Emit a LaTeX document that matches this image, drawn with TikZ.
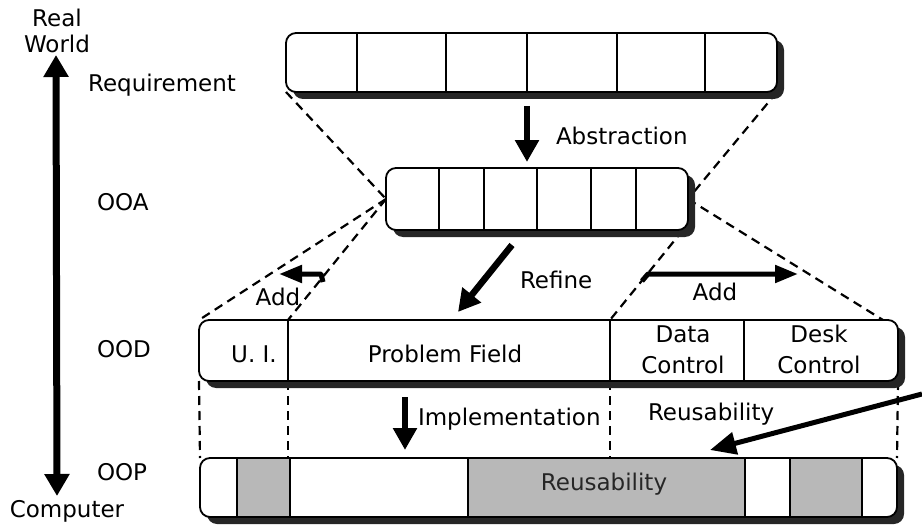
\documentclass[tikz,border=0pt]{standalone}
\usepackage{fontspec}
\setmainfont{DejaVu Sans}
\usetikzlibrary{arrows.meta,shadows}
\pgfdeclarelayer{bg}
\pgfsetlayers{bg,main}
\begin{document}
\begin{tikzpicture}[x=1pt,y=-1pt,
  font=\fontsize{23}{27}\selectfont,
  box/.style={draw=black, line width=1.8pt, fill=white, rounded corners=10pt,
    inner sep=0pt, outer sep=0pt,
    drop shadow={shadow xshift=7pt, shadow yshift=-7pt, fill=black!85, opacity=1}},
  cell/.style={line width=1.5pt},
  guide/.style={line width=2.2pt, dash pattern=on 9pt off 6pt},
  bigarrow/.style={line width=6.5pt, -{Triangle[width=23pt,length=22pt]}},
  addarrow/.style={line width=5pt, line join=round, -{Triangle[width=17pt,length=23pt]}},
  lbl/.style={inner sep=0pt, outer sep=0pt},
  shadedcell/.style={fill=black!28, draw=black, line width=1.5pt},
]
\useasboundingbox (0,0) rectangle (922,527);

% ---------- boxes ----------
\node[box, minimum width=491pt, minimum height=59pt] (req) at (531.5,62.5) {};
\node[box, minimum width=302pt, minimum height=62pt] (ooa) at (537,199) {};
\node[box, minimum width=699pt, minimum height=61pt] (ood) at (548.5,350.5) {};
\node[box, minimum width=697pt, minimum height=59pt] (oop) at (548.5,487.5) {};

% cells of the requirement box
\foreach \x in {357,446,527,617,705} \draw[cell] (\x,33) -- (\x,92);
% cells of the OOA box
\foreach \x in {439,484,537,591,636} \draw[cell] (\x,168) -- (\x,230);
% cells of the OOD box
\foreach \x in {288,610,744} \draw[cell] (\x,320) -- (\x,381);
% cells of the OOP box
\draw[shadedcell] (237,458) rectangle (290,517);
\draw[shadedcell] (468,458) rectangle (745,517);
\draw[shadedcell] (790,458) rectangle (862,517);

% named points for connectors
\coordinate (uiT) at (288,320);
\coordinate (uiB) at (288,381);
\coordinate (uiP) at (288,458);
\coordinate (dcT) at (610,320);
\coordinate (dcB) at (610,381);
\coordinate (dcP) at (610,458);
\coordinate (oodNE) at (883,320);
\coordinate (ooaSE) at (683,230);

% ---------- dashed guides ----------
\begin{pgfonlayer}{bg}
\draw[guide] (req.south west) -- (ooa.west);
\draw[guide] (req.south east) -- (ooa.east);
\draw[guide] (ooa.west) -- (ood.north west);
\draw[guide] (ooa.west) -- (uiT);
\draw[guide] (ooa.east) -- (oodNE);
\draw[guide] (ooaSE) -- (dcT);
\draw[guide] (ood.south west) -- (oop.north west);
\draw[guide] (uiB) -- (uiP);
\draw[guide] (dcB) -- (dcP);
\draw[guide] (ood.south east) -- (oop.north east);
\end{pgfonlayer}

% ---------- arrows ----------
\coordinate (rw) at (56,55);
\coordinate (cp) at (57,496);
\draw[line width=7pt, {Triangle[width=24pt,length=22pt]}-{Triangle[width=24pt,length=22pt]}] (rw) -- (cp);

\coordinate (abS) at (527,106);
\coordinate (abE) at (527,162);
\draw[bigarrow] (abS) -- (abE);

\coordinate (rfS) at (512,245);
\coordinate (rfE) at (458,312);
\draw[bigarrow] (rfS) -- (rfE);

\coordinate (la1) at (323,282);
\coordinate (la2) at (321,274);
\coordinate (la3) at (279,274);
\draw[addarrow] (la1) -- (la2) -- (la3);

\coordinate (ra1) at (642,281);
\coordinate (ra2) at (648,274);
\coordinate (ra3) at (798,274);
\draw[addarrow] (ra1) -- (ra2) -- (ra3);

\coordinate (imS) at (405,397);
\coordinate (imE) at (405,450);
\draw[bigarrow] (imS) -- (imE);

\coordinate (reS) at (922,394);
\coordinate (reE) at (710,450);
\draw[line width=5pt, -{Triangle[width=22pt,length=26pt]}] (reS) -- (reE);

% ---------- labels ----------
\node[lbl, anchor=base] (lReal) at (57,27) {Real};
\node[lbl, anchor=base] (lWorld) at (57,53) {World};
\node[lbl, anchor=base] (lReq) at (162,92) {Requirement};
\node[lbl, anchor=base west] (lOOA) at (97,210) {OOA};
\node[lbl, anchor=base west] (lOOD) at (97,357) {OOD};
\node[lbl, anchor=base west] (lOOP) at (97,480) {OOP};
\node[lbl, anchor=base] (lComp) at (67,517) {Computer};

\node[lbl, anchor=base west] (lAbs) at (556,145) {Abstraction};
\node[lbl, anchor=base west] (lRef) at (520,288) {Refine};
\node[lbl, anchor=base] (lAddL) at (278,305) {Add};
\node[lbl, anchor=base] (lAddR) at (715,300) {Add};
\node[lbl, anchor=base west] (lImp) at (418,425) {Implementation};
\node[lbl, anchor=base west] (lReu) at (648,420) {Reusability};

\node[lbl, anchor=base] (lUI) at (254,362) {U. I.};
\node[lbl, anchor=base] (lPF) at (445,362) {Problem Field};
\node[lbl, anchor=base] (lData) at (683,342) {Data};
\node[lbl, anchor=base] (lDC) at (683,373) {Control};
\node[lbl, anchor=base] (lDesk) at (819,342) {Desk};
\node[lbl, anchor=base] (lDkC) at (819,373) {Control};

\node[lbl, anchor=base, text=black!85] (lReuIn) at (604,490) {Reusability};
\end{tikzpicture}
\end{document}
